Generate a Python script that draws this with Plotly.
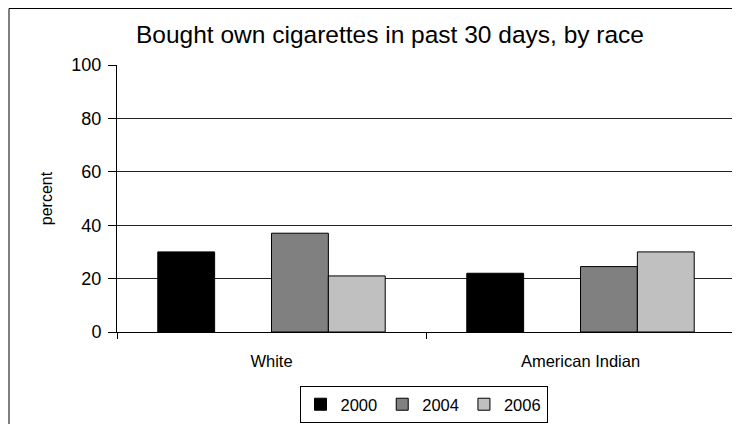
import plotly.graph_objects as go

categories = ["White", "American Indian"]
series_names = ["2000", "2002", "2004", "2006"]
values_2000 = [30, 22]
values_2002 = [None, None]
values_2004 = [37, 24.5]
values_2006 = [21, 30]
colors = ["#000000", "rgba(0,0,0,0)", "#808080", "#C0C0C0"]

fig = go.Figure()
for name, vals, col in zip(series_names, [values_2000, values_2002, values_2004, values_2006], colors):
    hidden = name == "2002"
    fig.add_trace(go.Bar(
        x=categories, y=vals, name=name,
        marker=dict(color=col, line=dict(color=("rgba(0,0,0,0)" if hidden else "#000000"), width=(0 if hidden else 1))),
        showlegend=not hidden,
    ))

# page is offset by the 8px body margin
W, H = 732, 416
L, R, T, B = 109, 5, 57, 92
pw, ph = W - L - R, H - T - B

fig.update_layout(
    width=W, height=H,
    margin=dict(l=L, r=R, t=T, b=B, autoexpand=False),
    paper_bgcolor="white", plot_bgcolor="white",
    font=dict(family="Liberation Sans, Arial, sans-serif", size=16, color="black"),
    title=dict(text="Bought own cigarettes in past 30 days, by race", x=382 / W, xanchor="center",
               y=1 - 26 / H, yanchor="middle", font=dict(size=24.5)),
    barmode="group", bargap=0.264, bargroupgap=0,
    showlegend=True,
    legend=dict(orientation="h", x=(415.5 - L) / pw, xanchor="center", y=(324 - 378) / ph, yanchor="top",
                bordercolor="black", borderwidth=1, font=dict(size=16.5), traceorder="normal",
                itemwidth=30),
    xaxis=dict(showline=True, linecolor="black", linewidth=1, ticks="outside", tickson="boundaries",
               ticklen=6, tickcolor="black", showgrid=False, tickfont=dict(size=16.5),
               ticklabelstandoff=14),
    yaxis=dict(range=[0, 100], dtick=20, showline=True, linecolor="black", linewidth=1, ticks="outside",
               ticklen=8, tickcolor="black", showgrid=True, gridcolor="#222222", gridwidth=1,
               tickfont=dict(size=18), zeroline=False, ticklabelstandoff=3,
               title=dict(text="percent", font=dict(size=16), standoff=14)),
)

# outer chart border and grey plot-area right edge
fig.add_shape(type="rect", xref="paper", yref="paper",
              x0=(1 - L) / pw, x1=(745 - L) / pw, y0=(324 - 430) / ph, y1=(324 - 0.5) / ph,
              line=dict(color="black", width=1), fillcolor="rgba(0,0,0,0)", layer="above")
fig.add_shape(type="line", xref="paper", yref="paper", x0=1, x1=1, y0=0, y1=1,
              line=dict(color="#808080", width=1))

fig.write_html("out.html")
